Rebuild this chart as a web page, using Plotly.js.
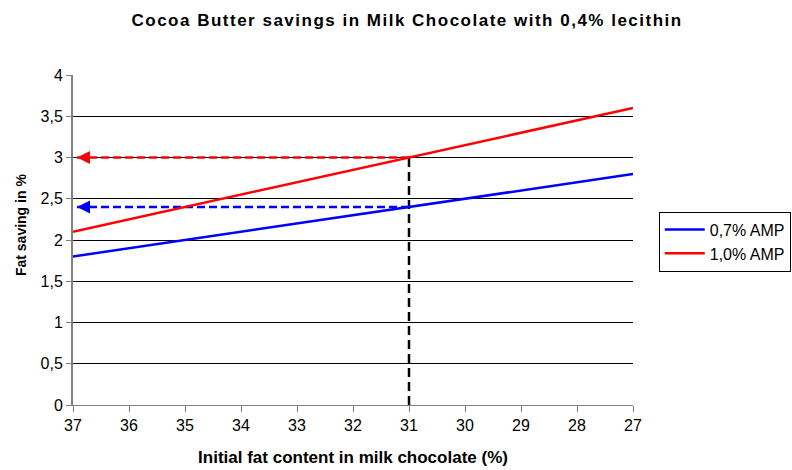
<!DOCTYPE html>
<html><head><meta charset="utf-8">
<script src="https://cdn.plot.ly/plotly-3.0.1.min.js"></script>
<style>body{margin:0;background:#fff}#c{width:792px;height:470px}</style>
</head><body><div id="c"></div>
<script>
const fatContent = [37, 36, 35, 34, 33, 32, 31, 30, 29, 28, 27];
const amp07 = [1.8, 1.9, 2.0, 2.1, 2.2, 2.3, 2.4, 2.5, 2.6, 2.7, 2.8];
const amp10 = [2.1, 2.25, 2.4, 2.55, 2.7, 2.85, 3.0, 3.15, 3.3, 3.45, 3.6];
const seriesNames = ['0,7% AMP', '1,0% AMP'];
const seriesColors = ['#0000ff', '#ff0000'];
const readX = 31;
const yTicks = [0, 0.5, 1, 1.5, 2, 2.5, 3, 3.5, 4];

const iRead = fatContent.indexOf(readX);
const xStart = fatContent[0];
const readVals = [amp07[iRead], amp10[iRead]];
const font = 'Liberation Sans, Arial, sans-serif';

const traces = [
  {x: [readX, xStart], y: [readVals[0], readVals[0]], mode: 'lines', showlegend: false,
   line: {color: seriesColors[0], width: 2.5, dash: '8px,4px'}, hoverinfo: 'skip'},
  {x: [readX, xStart], y: [readVals[1], readVals[1]], mode: 'lines', showlegend: false,
   line: {color: seriesColors[1], width: 2.5, dash: '8px,4px'}, hoverinfo: 'skip'},
  {x: [readX, readX], y: [0, readVals[1]], mode: 'lines', showlegend: false,
   line: {color: '#000000', width: 2.5, dash: '9px,5px'}, hoverinfo: 'skip'},
  {x: fatContent, y: amp07, name: seriesNames[0], mode: 'lines', line: {color: seriesColors[0], width: 2.5}},
  {x: fatContent, y: amp10, name: seriesNames[1], mode: 'lines', line: {color: seriesColors[1], width: 2.5}}
];

const arrows = readVals.map((v, i) => ({
  x: xStart, y: v, xref: 'x', yref: 'y', text: '', showarrow: true,
  ax: 16, ay: 0, arrowhead: 2, arrowsize: 1.3, arrowwidth: 2, standoff: 4,
  arrowcolor: seriesColors[i]
}));

const layout = {
  width: 792, height: 470,
  margin: {l: 73, r: 159, t: 75, b: 65, autoexpand: false},
  paper_bgcolor: '#fff', plot_bgcolor: '#fff',
  separators: ', ',
  title: {text: '<b>Cocoa Butter savings in Milk Chocolate with 0,4% lecithin</b>',
          font: {family: font, size: 17, color: '#000'}, x: 0.514, xanchor: 'center', y: 0.957, yanchor: 'middle'},
  xaxis: {
    range: [37, 27], tickvals: fatContent, ticktext: fatContent.map(String),
    showgrid: false, zeroline: false, showline: true, linecolor: '#808080', linewidth: 1,
    ticks: 'outside', ticklen: 6, tickcolor: '#808080',
    tickfont: {family: font, size: 16, color: '#000'},
    title: {text: '<b>Initial fat content in milk chocolate (%)</b>', font: {family: font, size: 17, color: '#000'}, standoff: 17}
  },
  yaxis: {
    range: [0, 4], tickvals: yTicks, tickformat: '.1~f',
    showgrid: true, gridcolor: '#000', gridwidth: 1, zeroline: false,
    showline: true, linecolor: '#808080', linewidth: 2,
    ticks: 'outside', ticklen: 5, tickcolor: '#808080',
    tickfont: {family: font, size: 16, color: '#000'}
  },
  annotations: arrows.concat([{
    text: '<b>Fat saving in %</b>', textangle: -90, xref: 'paper', yref: 'paper',
    x: -0.093, y: 0.545, xanchor: 'center', yanchor: 'middle', showarrow: false,
    font: {family: font, size: 14, color: '#000'}
  }]),
  legend: {x: 1.046, y: 0.586, xanchor: 'left', yanchor: 'top', bordercolor: '#000', borderwidth: 1,
           font: {family: font, size: 16, color: '#000'}, bgcolor: '#fff', itemwidth: 40, tracegroupgap: 2},
  showlegend: true
};
Plotly.newPlot('c', traces, layout, {displayModeBar: false, staticPlot: true}).then(gd => {
  const t = gd.querySelector('.gtitle');
  if (t) t.setAttribute('letter-spacing', '1.5px');
});
</script></body></html>
